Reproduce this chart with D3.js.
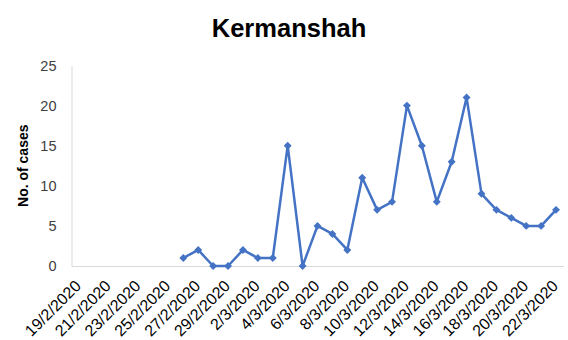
<!DOCTYPE html>
<html>
<head>
<meta charset="utf-8">
<script src="https://cdn.jsdelivr.net/npm/d3@7"></script>
<style>
  html, body { margin: 0; padding: 0; background: #fff; }
  svg { display: block; }
</style>
</head>
<body>
<svg id="chart" width="568" height="340"></svg>
<script>
// Daily new cases, Kermanshah province
const dates = [
  "19/2/2020","20/2/2020","21/2/2020","22/2/2020","23/2/2020","24/2/2020","25/2/2020",
  "26/2/2020","27/2/2020","28/2/2020","29/2/2020",
  "1/3/2020","2/3/2020","3/3/2020","4/3/2020","5/3/2020","6/3/2020","7/3/2020","8/3/2020",
  "9/3/2020","10/3/2020","11/3/2020","12/3/2020","13/3/2020","14/3/2020","15/3/2020",
  "16/3/2020","17/3/2020","18/3/2020","19/3/2020","20/3/2020","21/3/2020","22/3/2020"
];
// null = no report for that day
const cases = [
  null, null, null, null, null, null, null,
  1, 2, 0, 0,
  2, 1, 1, 15, 0, 5, 4, 2,
  11, 7, 8, 20, 15, 8, 13,
  21, 9, 7, 6, 5, 5, 7
];
const yTicks = [0, 5, 10, 15, 20, 25];
const title = "Kermanshah";
const yTitle = "No. of cases";

const svg = d3.select("#chart");
const font = "'Liberation Sans', Arial, sans-serif";
const plotLeft = 71.5, plotRight = 563.5, plotTop = 65.5, plotBottom = 266;

const x = d3.scaleBand().domain(dates).range([plotLeft, plotRight]);
const y = d3.scaleLinear().domain([0, 25]).range([plotBottom, plotTop]);
const cx = d => x(d) + x.bandwidth() / 2;

// Title
svg.append("text")
  .attr("x", 289).attr("y", 37)
  .attr("text-anchor", "middle")
  .attr("font-family", font).attr("font-weight", "bold").attr("font-size", 25.5)
  .attr("fill", "#000")
  .text(title);

// Y axis
const yAxis = svg.append("g")
  .attr("transform", `translate(${plotLeft},0)`)
  .call(d3.axisLeft(y).tickValues(yTicks).tickSize(0).tickPadding(15));
yAxis.select(".domain").attr("stroke", "#d9d9d9").attr("stroke-width", 1);
yAxis.selectAll("text")
  .attr("font-family", font).attr("font-size", 14.5).attr("fill", "#404040");

// X axis: every second date labelled, text slanted at 45°
const xAxis = svg.append("g")
  .attr("transform", `translate(0,${plotBottom})`)
  .call(d3.axisBottom(x).tickValues(dates.filter((d, i) => i % 2 === 0)).tickSize(0));
xAxis.select(".domain").attr("stroke", "#d9d9d9").attr("stroke-width", 1);
xAxis.selectAll("text")
  .attr("font-family", font).attr("font-size", 16).attr("fill", "#000")
  .attr("text-anchor", "end")
  .attr("dy", 0)
  .attr("transform", "translate(3,21) rotate(-45)")
  .attr("y", 0).attr("x", 0);

// Y axis title
svg.append("text")
  .attr("transform", `translate(28,${(plotTop + plotBottom) / 2}) rotate(-90)`)
  .attr("text-anchor", "middle")
  .attr("font-family", font).attr("font-weight", "bold").attr("font-size", 14)
  .attr("fill", "#000")
  .text(yTitle);

// Series line
const pts = dates.map((d, i) => ({ d, v: cases[i] })).filter(p => p.v !== null);
const line = d3.line().x(p => cx(p.d)).y(p => y(p.v));
svg.append("path")
  .datum(pts)
  .attr("d", line)
  .attr("fill", "none")
  .attr("stroke", "#4472c4")
  .attr("stroke-width", 2.5)
  .attr("stroke-linejoin", "round");

// Diamond markers
svg.append("g").selectAll("path")
  .data(pts)
  .join("path")
  .attr("d", d3.symbol().type(d3.symbolDiamond2).size(40))
  .attr("transform", p => `translate(${cx(p.d)},${y(p.v)})`)
  .attr("fill", "#4472c4");
</script>
</body>
</html>
